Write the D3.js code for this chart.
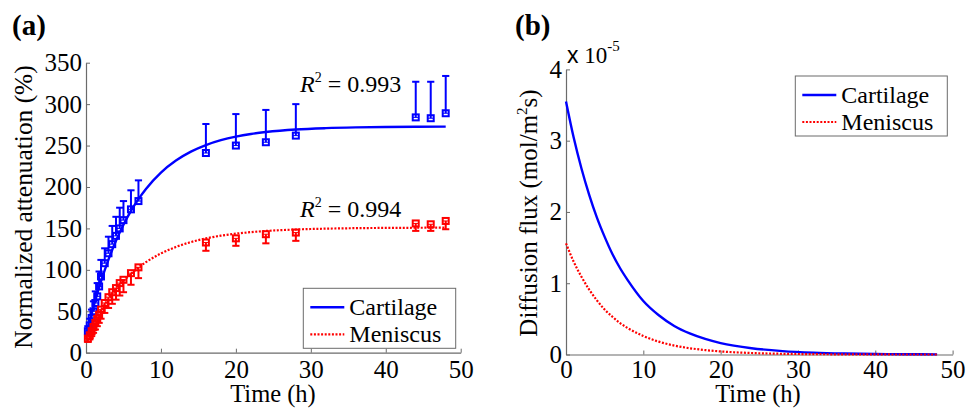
<!DOCTYPE html>
<html>
<head>
<meta charset="utf-8">
<script src="https://cdn.jsdelivr.net/npm/d3@7/dist/d3.min.js"></script>
<style>
  html, body { margin: 0; padding: 0; background: #fff; }
  svg { display: block; }
</style>
</head>
<body>
<svg id="chart" width="967" height="411"></svg>
<script>
// ---------- Data ----------
const sampleTime = [0.25,0.5,0.75,1,1.25,1.5,1.75,2,2.5,3,3.5,4,4.5,5,6,7,16,20,24,28,44,46,48];
const cartMean   = [26,33,42,50,60,68,80,92,108,120,131,141,150,160,173,183,241,250,254,262,284,283,289];
const cartErrUp  = [6,8,10,12,14,16,18,20,18,20,22,23,25,23,23,25,35,38,39,38,43,44,45];
const menMean    = [17,21,26,31,36,41,46,52,60,67,73,78,84,88,96,103,133,138,143,145,156,155,159];
const menErrDown = [4,5,6,7,8,9,10,11,12,13,14,14,15,15,14,13,10,9,11,10,9,8,10];

const fitTime = [0,1,2,3,4,5,6,7,8,10,12,14,16,18,20,22,24,28,32,36,40,44,48];
const cartFit = [20,55.6,86.1,112.4,135,154.4,171.1,185.4,197.7,217.4,231.9,242.7,250.6,256.5,260.8,264,266.3,269.4,271,271.9,272.4,272.7,272.8];
const menFit  = [18,36,51.5,64.9,76.5,86.5,95.3,102.8,109.3,119.8,127.6,133.5,137.9,141.2,143.7,145.5,146.9,148.7,149.7,150.3,150.6,150.8,150.9];

const fluxTime = [0,1,2,3,4,5,6,7,8,10,12,14,16,18,20,24,28,32,36,40,44,48];
const cartFlux = [3.55,3.04,2.61,2.24,1.92,1.65,1.41,1.21,1.04,0.75,0.55,0.40,0.295,0.218,0.16,0.088,0.048,0.026,0.014,0.0075,0.004,0.002];
const menFlux  = [1.56,1.30,1.09,0.91,0.76,0.63,0.53,0.44,0.37,0.26,0.18,0.125,0.088,0.062,0.043,0.021,0.01,0.005,0.002,0.001,0,0];

const timeTicks = [0,10,20,30,40,50];
const attTicks  = [0,50,100,150,200,250,300,350];
const fluxTicks = [0,1,2,3,4];

const seriesNames = ["Cartilage","Meniscus"];
const r2Labels = ["0.993","0.994"];

// ---------- Styles ----------
const BLUE = "#0000ff", RED = "#ff0000";
const SERIF = "Liberation Serif, Times New Roman, serif";
const AXIS = "#6b6b6b";
const FS = 24;
const TFS = 25;
const svg = d3.select("#chart");
svg.append("rect").attr("width",967).attr("height",411).attr("fill","#fff");

function styleAxis(g) {
  g.attr("font-family", null).attr("font-size", null);
  g.select(".domain").attr("stroke", AXIS).attr("stroke-width", 1.2);
  g.selectAll(".tick line").attr("stroke", AXIS).attr("stroke-width", 1);
  g.selectAll(".tick text").attr("fill", "#000")
    .style("font-family", SERIF).style("font-size", TFS + "px");
}

// ---------- Panel (a) ----------
const ax = d3.scaleLinear().domain([0,50]).range([86, 460.7]);
const ay = d3.scaleLinear().domain([0,350]).range([352.7, 62.7]);
const pa = svg.append("g");

pa.append("g").attr("transform","translate(0,352.7)")
  .call(d3.axisBottom(ax).tickValues(timeTicks).tickFormat(d3.format("d")).tickSizeInner(-4).tickSizeOuter(0).tickPadding(8))
  .call(styleAxis);
pa.append("g").attr("transform","translate(86,0)")
  .call(d3.axisLeft(ay).tickValues(attTicks).tickFormat(d3.format("d")).tickSizeInner(-4).tickSizeOuter(0).tickPadding(4))
  .call(styleAxis);

const lineA = d3.line().x((d,i)=>ax(fitTime[i])).y(d=>ay(d)).curve(d3.curveMonotoneX);
pa.append("path").datum(cartFit).attr("d", lineA).attr("fill","none").attr("stroke",BLUE).attr("stroke-width",2.4);
pa.append("path").datum(menFit).attr("d", lineA).attr("fill","none").attr("stroke",RED).attr("stroke-width",2.2).attr("stroke-dasharray","2,1.6");

function drawSeries(g, means, errs, dir, color) {
  const grp = g.append("g").attr("stroke", color).attr("fill","none");
  sampleTime.forEach((t,i) => {
    const x = ax(t), y0 = ay(means[i]), y1 = ay(means[i] + dir*errs[i]);
    grp.append("line").attr("x1",x).attr("x2",x).attr("y1",y0).attr("y2",y1).attr("stroke-width",2);
    grp.append("line").attr("x1",x-3.6).attr("x2",x+3.6).attr("y1",y1).attr("y2",y1).attr("stroke-width",2);
    grp.append("rect").attr("x",x-3).attr("y",y0-3).attr("width",6).attr("height",6).attr("stroke-width",2);
    grp.append("line").attr("x1",x-3).attr("x2",x+3).attr("y1",y0).attr("y2",y0).attr("stroke-width",1);
  });
}
drawSeries(pa, cartMean, cartErrUp, 1, BLUE);
drawSeries(pa, menMean, menErrDown, -1, RED);

function txt(g, x, y, size) {
  return g.append("text").attr("x",x).attr("y",y).attr("fill","#000")
    .style("font-family", SERIF).style("font-size", size + "px");
}

// R^2 labels
function r2(g, x, y, val) {
  const t = txt(g, x, y, FS);
  t.append("tspan").style("font-style","italic").text("R");
  t.append("tspan").style("font-size","14px").attr("dy",-10).text("2");
  t.append("tspan").attr("dy",10).text(" = " + val);
}
r2(pa, 300, 92, r2Labels[0]);
r2(pa, 300, 217, r2Labels[1]);

// Legend
function legend(g, x, y, w, h) {
  g.append("rect").attr("x",x).attr("y",y).attr("width",w).attr("height",h)
    .attr("fill","#fff").attr("stroke",AXIS).attr("stroke-width",1);
  const rows = [{c:BLUE, dash:null, sw:2.4},{c:RED, dash:"2,1.6", sw:2.2}];
  rows.forEach((r,i) => {
    const cy = y + 19 + i*27;
    g.append("line").attr("x1",x+7).attr("x2",x+41).attr("y1",cy).attr("y2",cy)
      .attr("stroke",r.c).attr("stroke-width",r.sw).attr("stroke-dasharray",r.dash);
    txt(g, x+46, cy+7.5, FS).text(seriesNames[i]);
  });
}
legend(pa, 303.3, 288.3, 152.4, 60);

// Axis titles (a)
txt(pa, 273, 402, 24.5).attr("text-anchor","middle").text("Time (h)");
pa.append("text").attr("transform","translate(32,207) rotate(-90)").attr("text-anchor","middle")
  .style("font-family",SERIF).style("font-size","25.4px").text("Normalized attenuation (%)");
txt(pa, 12, 35, 29).style("font-weight","bold").text("(a)");

// ---------- Panel (b) ----------
const bx = d3.scaleLinear().domain([0,50]).range([566, 952.6]);
const by = d3.scaleLinear().domain([0,4]).range([354.5, 69.4]);
const pb = svg.append("g");

pb.append("g").attr("transform","translate(0,354.5)")
  .call(d3.axisBottom(bx).tickValues(timeTicks).tickFormat(d3.format("d")).tickSizeInner(-4).tickSizeOuter(0).tickPadding(6.2))
  .call(styleAxis);
pb.append("g").attr("transform","translate(566,0)")
  .call(d3.axisLeft(by).tickValues(fluxTicks).tickFormat(d3.format("d")).tickSizeInner(-4).tickSizeOuter(0).tickPadding(4))
  .call(styleAxis);

const lineB = d3.line().x((d,i)=>bx(fluxTime[i])).y(d=>by(d)).curve(d3.curveMonotoneX);
pb.append("path").datum(cartFlux).attr("d", lineB).attr("fill","none").attr("stroke",BLUE).attr("stroke-width",2.4);
pb.append("path").datum(menFlux).attr("d", lineB).attr("fill","none").attr("stroke",RED).attr("stroke-width",2.2).attr("stroke-dasharray","2,1.6");

legend(pb, 795.3, 76, 152, 60);

// exponent label
const ex = txt(pb, 567, 63, 23);
ex.append("tspan").style("font-family","Liberation Sans, Arial, sans-serif").text("x");
ex.append("tspan").text(" 10");
ex.append("tspan").style("font-size","15px").attr("dy",-12).text("-5");

txt(pb, 758, 402, 24.5).attr("text-anchor","middle").text("Time (h)");
const yl = pb.append("text").attr("transform","translate(537,213) rotate(-90)").attr("text-anchor","middle")
  .style("font-family",SERIF).style("font-size","25px");
yl.append("tspan").text("Diffusion flux (mol/m");
yl.append("tspan").style("font-size","15px").attr("dy",-10).text("2");
yl.append("tspan").attr("dy",10).text("s)");
txt(pb, 515, 35, 29).style("font-weight","bold").text("(b)");
</script>
</body>
</html>
